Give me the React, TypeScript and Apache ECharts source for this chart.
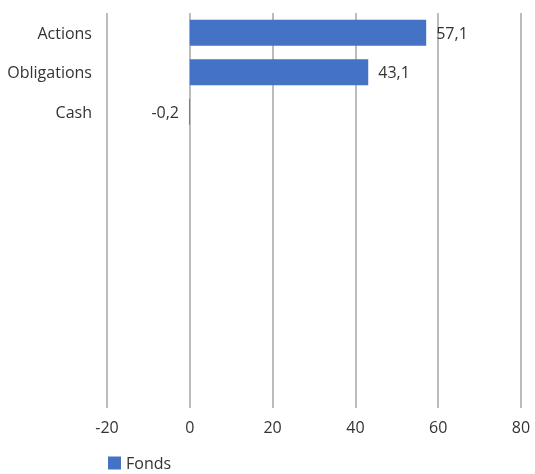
import React, { useEffect, useRef } from "react";
import * as echarts from "echarts";

const categories = ["Actions", "Obligations", "Cash", "", " ", "  ", "   ", "    ", "     ", "      "];
const fondsValues: (number | null)[] = [57.1, 43.1, -0.2, null, null, null, null, null, null, null];
const xTicks = { min: -20, max: 80, interval: 20 };
const seriesName = "Fonds";

const FONT = "'Open Sans', 'Noto Sans', sans-serif";
const TEXT = "#333333";

export default function App() {
  const ref = useRef<HTMLDivElement>(null);
  useEffect(() => {
    if (!ref.current) return;
    const chart = echarts.init(ref.current, undefined, { renderer: "svg" });
    chart.setOption({
      animation: false,
      textStyle: { fontFamily: FONT },
      grid: { left: 107, right: 14, top: 13, height: 395, containLabel: false },
      legend: {
        data: [seriesName],
        left: 103,
        top: 450,
        itemWidth: 13,
        itemHeight: 13,
        itemGap: 8,
        icon: "rect",
        textStyle: { fontFamily: FONT, fontSize: 16, color: TEXT },
      },
      xAxis: {
        type: "value",
        min: xTicks.min,
        max: xTicks.max,
        interval: xTicks.interval,
        axisLine: { show: false },
        axisTick: { show: false },
        splitLine: { show: true, lineStyle: { color: "#A6A6A6", width: 1.5 } },
        axisLabel: { fontFamily: FONT, fontSize: 16, color: TEXT, margin: 11 },
      },
      yAxis: {
        type: "category",
        data: categories,
        inverse: true,
        axisLine: { show: false },
        axisTick: { show: false },
        splitLine: { show: false },
        axisLabel: { fontFamily: FONT, fontSize: 16, color: TEXT, margin: 15 },
      },
      series: [
        {
          name: seriesName,
          type: "bar",
          barCategoryGap: "34%",
          itemStyle: { color: "#4472C4" },
          data: fondsValues.map((v) =>
            v === null
              ? null
              : {
                  value: v,
                  label: {
                    show: true,
                    position: v < 0 ? "left" : "right",
                    distance: 10,
                    fontFamily: FONT,
                    fontSize: 16,
                    color: TEXT,
                    formatter: (p: any) => String(p.value).replace(".", ","),
                  },
                }
          ),
        },
      ],
    });
    return () => chart.dispose();
  }, []);
  return <div ref={ref} style={{ position: "fixed", left: 0, top: 0, width: 535, height: 474 }} />;
}
